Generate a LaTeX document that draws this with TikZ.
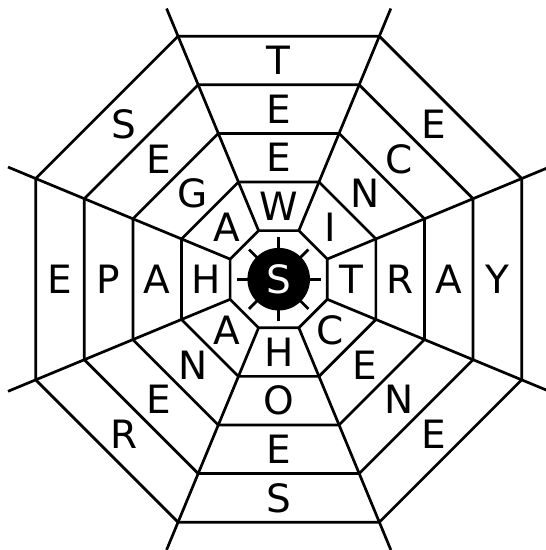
\documentclass[tikz,border=0pt]{standalone}
\usepackage{fontspec}
\setmainfont{DejaVu Sans}
\usetikzlibrary{positioning}

\begin{document}
\begin{tikzpicture}[x=1pt, y=1pt, line width=2.7pt]
    % Stile delle lettere
    \tikzstyle{lettera} = [font=\fontsize{39}{47}\selectfont, inner sep=0pt]

    \useasboundingbox (0,0) rectangle (546,550);

    \begin{scope}[shift={(278.7,270.8)}]
    % Ottagoni
    \foreach \k in {1,...,5} {
        \pgfmathsetmacro\r{\k*52.6}
        \draw (22.5:\r) \foreach \a in {67.5,112.5,...,337.5} { -- (\a:\r) } -- cycle;
    }

    % Raggi
    \foreach \a in {22.5,67.5,...,337.5}
        \draw (\a:52.6) -- (\a:293);

    % Ragno al centro
    \foreach \a in {0,45,...,315}
        \draw (\a:30) -- (\a:42);
    \fill (0,0) circle (31.3);
    \node [lettera, text=white] (centro) at (0,0) {S};

    % Lettere
    \foreach \a/\p/\q/\s/\t in {90/W/E/E/T, 45/I/N/C/E, 0/T/R/A/Y, -45/C/E/N/E,
                                -90/H/O/E/S, -135/A/N/E/R, 180/H/A/P/E, 135/A/G/E/S}
        \foreach \l [count=\k] in {\p,\q,\s,\t} {
            \pgfmathsetmacro\d{48.6*(\k+0.5)}
            \node [lettera] (l\k-\a) at (\a:\d) {\l};
        }
    \end{scope}
\end{tikzpicture}
\end{document}
